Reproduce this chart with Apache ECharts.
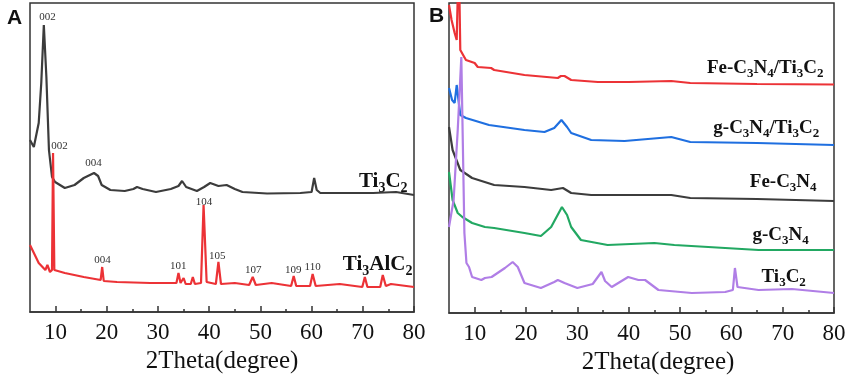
<!DOCTYPE html>
<html>
<head>
<meta charset="utf-8">
<script src="https://cdn.jsdelivr.net/npm/echarts@6/dist/echarts.min.js"></script>
<style>
  html, body { margin: 0; padding: 0; background: #fff; }
  #chart { width: 851px; height: 378px; }
</style>
</head>
<body>
<div id="chart"></div>
<script>
// 2Theta values and intensities (a.u.)
// panel A
var tic2A = [[5,172],[5.75,165],[6.7,189],[7.2,229],[7.7,287],[8.2,235],[8.7,162],[9.3,135],[9.9,130],[11.8,124],[13.7,127],[15.5,134],[17.5,139],[18.3,136],[19,127],[20.7,122],[23.5,121],[25.2,123],[25.9,125],[27,123],[29.6,120],[32.5,123],[34,126],[34.7,131],[35.5,125],[37.6,121],[39,125],[40.2,129],[41.8,126],[43.4,127],[45,123],[46.5,120],[51.3,118.5],[57.8,119],[60,120],[60.5,134],[61,122],[61.7,119],[67.6,119],[72,119],[76.5,120],[80,117]];
var tialc2A = [[5,67],[6.7,49],[8,42],[8.4,47],[8.9,40],[9.3,42],[9.5,159],[9.75,42],[11.8,39],[15.5,35],[18.8,32],[19.1,45],[19.4,31],[22,30],[28.5,29],[33.6,29],[34,39],[34.4,29],[35,34],[35.4,28],[36.4,28],[36.8,35],[37.2,28],[38.4,29],[38.9,107],[39.5,30],[41.3,28],[41.8,50],[42.3,28],[45,29],[47.8,27],[48.5,35],[49.1,27],[52.2,29],[56,26],[56.5,36],[57,26],[59.7,26],[60.2,38],[60.8,26],[65.5,28],[69.9,25],[70.4,35],[70.9,25],[73.4,25],[73.9,37],[74.5,26],[75.5,28],[80,25]];
// peak indices, panel A
var hklTiC2 = [['002',8.43,295],['004',17.4,149]];
var hklTiAlC2 = [['002',10.77,166],['004',19.15,52],['101',33.97,46],['104',39.0,110],['105',41.57,56],['107',48.6,42],['109',56.4,42],['110',60.2,45]];

// panel B
var feCnTiB = [[5,308],[5.5,293],[6.1,280],[6.5,273],[6.9,360],[7.2,263],[8.3,253],[10,250],[10.6,246],[13.2,245],[13.8,243],[19.7,238],[26.2,235],[26.8,237],[27.5,237],[28.8,233],[34,231],[40,231],[48.3,232],[52,230],[65,229],[80,228.5]];
var gCnTiB = [[5,225],[5.6,213],[6.1,210],[6.5,228],[7.2,198],[8.3,195],[12.8,188],[19.7,183],[23.6,181],[25.5,185],[26.9,193],[28,186],[28.8,180],[32.7,173],[39.2,172],[48.3,176],[52,171],[65,170],[80,168]];
var feCnB = [[5,186],[5.7,163],[7.2,143],[9.5,135],[13.8,128],[19.7,126],[24.9,123],[27.2,125],[28.8,120],[32.7,118],[48.3,118],[52,115],[65,114],[80,112]];
var gCnB = [[5,141],[5.7,113],[6.7,100],[7.6,96],[9.5,90],[12,86],[13.8,85],[19.7,80],[22.9,77],[24.9,86],[27,106],[28,98],[28.8,86],[30.7,73],[35.9,68],[45,70],[48.9,68],[58.8,65],[65.3,63],[80,63]];
var tic2B = [[5,86],[5.3,84],[5.9,113],[6.7,183],[7.4,256],[8,80],[8.4,50],[8.9,46],[9.5,36],[11.3,33],[12,35],[13.3,36],[15.9,45],[17.4,51],[18.4,46],[19.7,30],[22.9,25],[25.5,31],[26.2,33],[27.5,30],[30,25],[33,29],[34.7,41],[35.4,32],[36.7,26],[39.9,36],[41.9,33],[43.2,33],[45.8,23],[52.3,20],[58.8,21],[60.3,23],[60.7,45],[61.2,26],[65.3,23],[71.8,24],[80,20]];

// tick positions
var majorTicks = [10, 20, 30, 40, 50, 60, 70, 80];
var minorTicks = [15, 25, 35, 45, 55, 65, 75];

var chart = echarts.init(document.getElementById('chart'));

var serif = '"Liberation Serif", "Times New Roman", serif';
var richSub = {
  n: { fontFamily: serif, fontWeight: 'bold', fontSize: 19, lineHeight: 24, color: '#111' },
  s: { fontFamily: serif, fontWeight: 'bold', fontSize: 13, lineHeight: 13, verticalAlign: 'bottom', color: '#111' }
};
var richSubA = {
  n: { fontFamily: serif, fontWeight: 'bold', fontSize: 21, lineHeight: 26, color: '#111' },
  s: { fontFamily: serif, fontWeight: 'bold', fontSize: 14, lineHeight: 14, verticalAlign: 'bottom', color: '#111' }
};

// name label, text in rich format
function nameMark(text, x, y, rich) {
  return {
    coord: [x, y],
    label: { show: true, position: 'inside', formatter: text, rich: rich }
  };
}
function hklMarks(list) {
  return list.map(function (p) {
    return {
      coord: [p[1], p[2]],
      label: { show: true, position: 'inside', formatter: p[0], fontFamily: serif, fontSize: 11, color: '#333' }
    };
  });
}
function mk(name, data, color, axi, marks) {
  return {
    name: name,
    type: 'line',
    xAxisIndex: axi,
    yAxisIndex: axi / 2,
    data: data,
    showSymbol: false,
    clip: true,
    lineStyle: { color: color, width: 2.2 },
    itemStyle: { color: color },
    silent: true,
    markPoint: {
      symbol: 'rect',
      symbolSize: 1,
      itemStyle: { color: 'rgba(0,0,0,0)' },
      data: marks
    }
  };
}

function xAx(gi, pad) {
  return {
    gridIndex: gi,
    type: 'value',
    min: 5,
    max: 80,
    interval: 5,
    name: '2Theta(degree)',
    nameLocation: 'middle',
    nameGap: 35,
    nameTextStyle: { fontFamily: serif, fontSize: 25, color: '#111', padding: [0, 0, 0, pad] },
    axisLine: { lineStyle: { color: '#333', width: 1.5 } },
    axisTick: { inside: true, length: 6, customValues: majorTicks, lineStyle: { color: '#333', width: 1.5 } },
    axisLabel: { fontFamily: serif, fontSize: 23, color: '#111', margin: 9, customValues: majorTicks },
    splitLine: { show: false }
  };
}
// minor ticks only
function xMinor(gi) {
  return {
    gridIndex: gi,
    type: 'value',
    min: 5,
    max: 80,
    interval: 5,
    position: 'bottom',
    axisLine: { show: false },
    axisTick: { inside: true, length: 3, customValues: minorTicks, lineStyle: { color: '#333', width: 1.5 } },
    axisLabel: { show: false },
    splitLine: { show: false }
  };
}
function yAx(gi, max) {
  return { gridIndex: gi, type: 'value', min: 0, max: max, show: false };
}

var option = {
  animation: false,
  backgroundColor: '#fff',
  title: [
    { text: 'A', left: 2, top: 3, textStyle: { fontFamily: '"Liberation Sans", Arial, sans-serif', fontWeight: 'bold', fontSize: 21, color: '#111' } },
    { text: 'B', left: 424, top: 1, textStyle: { fontFamily: '"Liberation Sans", Arial, sans-serif', fontWeight: 'bold', fontSize: 21, color: '#111' } }
  ],
  grid: [
    { left: 30, top: 3, width: 384, height: 309, outerBoundsMode: 'none', show: true, borderColor: '#333', borderWidth: 1.5 },
    { left: 449, top: 3, width: 385, height: 310, outerBoundsMode: 'none', show: true, borderColor: '#333', borderWidth: 1.5 }
  ],
  xAxis: [xAx(0, 0), xMinor(0), xAx(1, 33), xMinor(1)],
  yAxis: [yAx(0, 309), yAx(1, 310)],
  series: [
    mk('Ti3C2', tic2A, '#3c3c3c', 0,
      hklMarks(hklTiC2).concat([nameMark('{n|Ti}{s|3}{n|C}{s|2}', 74.0, 130, richSubA)])),
    mk('Ti3AlC2', tialc2A, '#ec3236', 0,
      hklMarks(hklTiAlC2).concat([nameMark('{n|Ti}{s|3}{n|AlC}{s|2}', 72.9, 47, richSubA)])),
    mk('Fe-C3N4/Ti3C2', feCnTiB, '#ec3236', 2,
      [nameMark('{n|Fe-C}{s|3}{n|N}{s|4}{n|/Ti}{s|3}{n|C}{s|2}', 66.6, 245, richSub)]),
    mk('g-C3N4/Ti3C2', gCnTiB, '#1f6fe0', 2,
      [nameMark('{n|g-C}{s|3}{n|N}{s|4}{n|/Ti}{s|3}{n|C}{s|2}', 66.8, 185, richSub)]),
    mk('Fe-C3N4', feCnB, '#3c3c3c', 2,
      [nameMark('{n|Fe-C}{s|3}{n|N}{s|4}', 70.1, 131, richSub)]),
    mk('g-C3N4', gCnB, '#22a862', 2,
      [nameMark('{n|g-C}{s|3}{n|N}{s|4}', 69.6, 78, richSub)]),
    mk('Ti3C2 (B)', tic2B, '#b07ee6', 2,
      [nameMark('{n|Ti}{s|3}{n|C}{s|2}', 70.2, 36, richSub)])
  ]
};
chart.setOption(option);
</script>
</body>
</html>
